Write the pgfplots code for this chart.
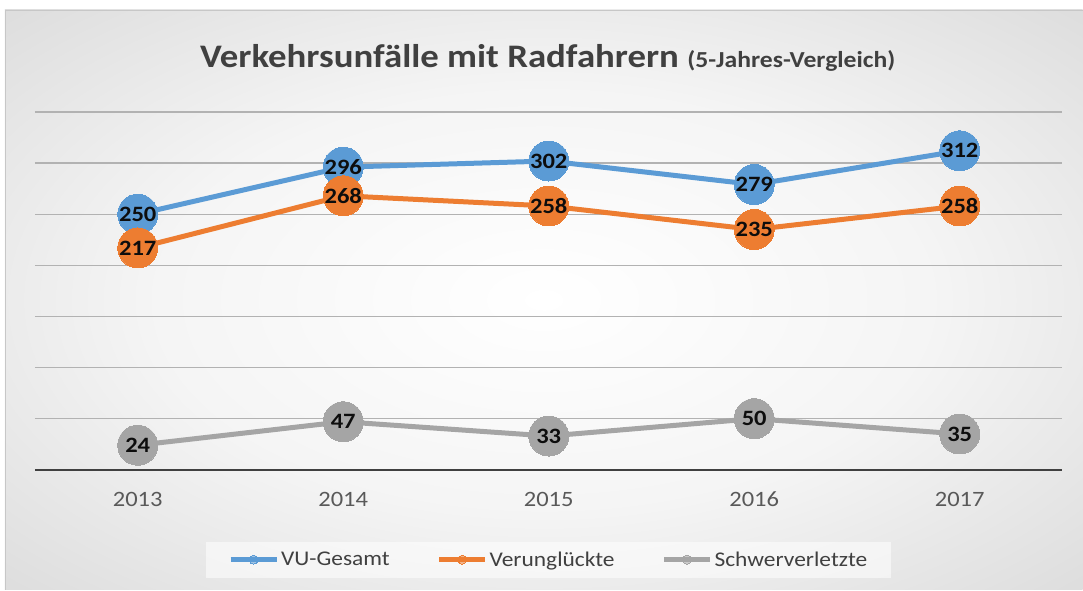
\documentclass[border=0pt]{standalone}
\usepackage{pgfplots}
\pgfplotsset{compat=1.18}
\usepackage{fontspec}
\setmainfont{Carlito}[FakeStretch=1.12]
\definecolor{cblue}{HTML}{5B9BD5}
\definecolor{corange}{HTML}{ED7D31}
\definecolor{cgray}{HTML}{A5A5A5}
\definecolor{ctext}{HTML}{404040}
\definecolor{ctick}{HTML}{595959}
\pgfdeclareradialshading{bgshade}{\pgfpoint{0bp}{0bp}}{color(0bp)=(white); color(18bp)=(black!4); color(50bp)=(black!21); color(71bp)=(black!25)}
\begin{document}
\begin{tikzpicture}[x=1bp,y=1bp]
\fill[white] (0,0) rectangle (1083,590);
\shade[shading=bgshade] (5,0) rectangle (1083,580);
\draw[black!22, line width=1bp] (5.5,0) -- (5.5,579.5) -- (1083,579.5);
\node[anchor=base, text=ctext, inner sep=0pt] at (548,522)
  {\fontsize{33}{40}\selectfont\bfseries Verkehrsunfälle mit Radfahrern {\fontsize{23}{28}\selectfont (5-Jahres-Vergleich)}};
\begin{axis}[
  at={(35bp,120bp)}, anchor=south west,
  scale only axis, width=1028bp, height=358bp,
  xmin=-0.5, xmax=4.5, ymin=0, ymax=350,
  clip=false,
  axis x line*=bottom,
  axis y line*=left,
  y axis line style={draw=none},
  x axis line style={draw=ctext, line width=2.5bp, -},
  xtick={0,1,2,3,4},
  xticklabels={2013,2014,2015,2016,2017},
  xtick style={draw=none},
  ytick style={draw=none},
  xticklabel style={anchor=base, yshift=-37bp, font=\fontsize{22}{26}\selectfont, text=ctick},
  ytick={50,100,...,350},
  yticklabels={},
  ymajorgrids,
  major grid style={draw=black!30, line width=1.3bp},
  line width=5bp,
  mark=*, mark size=20bp,
  nodes near coords,
  /pgf/number format/assume math mode=true,
  every node near coord/.style={anchor=center, inner sep=0pt, text=black!95, font=\fontsize{22}{26}\selectfont\bfseries},
  legend columns=3,
  legend style={at={(0.5,-0.251)}, anchor=center, draw=none, fill=white, fill opacity=0.55, text opacity=1,
    font=\fontsize{21}{25}\selectfont, text=ctext, inner xsep=22bp, inner ysep=8bp,
    /tikz/every even column/.append style={column sep=45bp}},
  legend image code/.code={\draw[#1, mark size=4.5bp, mark repeat=2, mark phase=2, line width=5bp] plot coordinates {(0bp,0bp) (23bp,0bp) (46bp,0bp)};},
]
\addplot[color=cblue, mark options={fill=cblue, draw=cblue, line width=0pt}] coordinates {(0,250) (1,296) (2,302) (3,279) (4,312)};
\addlegendentry{VU-Gesamt}
\addplot[color=corange, mark options={fill=corange, draw=corange, line width=0pt}] coordinates {(0,217) (1,268) (2,258) (3,235) (4,258)};
\addlegendentry{Verunglückte}
\addplot[color=cgray, mark options={fill=cgray, draw=cgray, line width=0pt}] coordinates {(0,24) (1,47) (2,33) (3,50) (4,35)};
\addlegendentry{Schwerverletzte}
\end{axis}
\end{tikzpicture}
\end{document}
